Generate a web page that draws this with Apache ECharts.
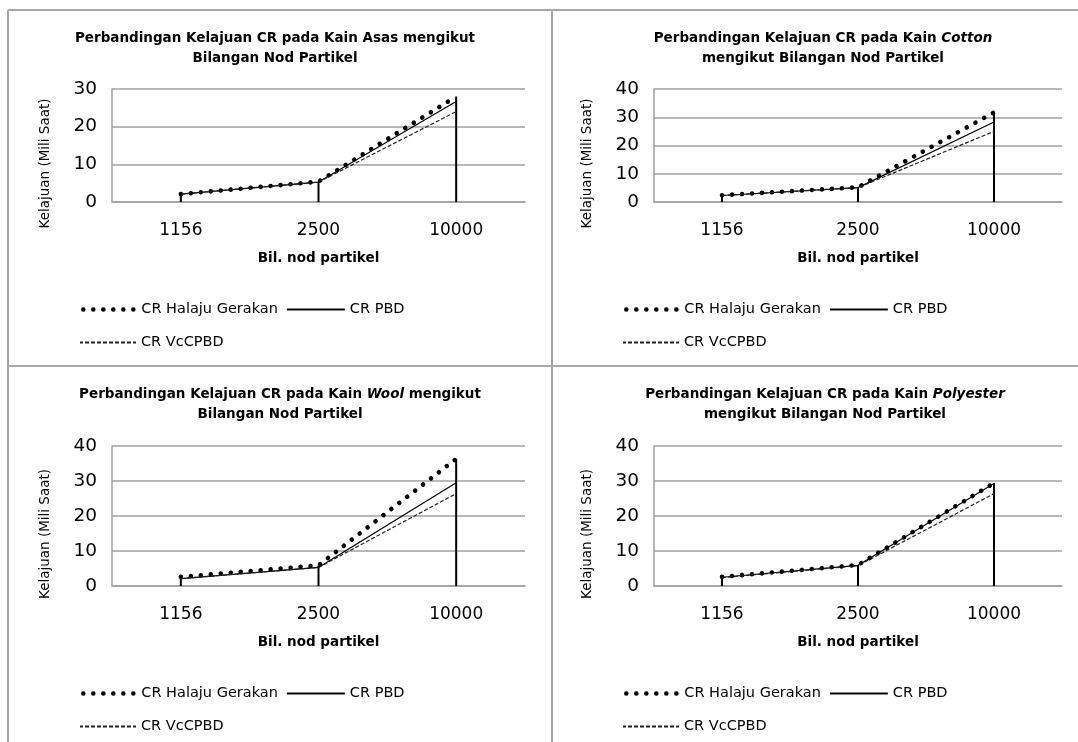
<!DOCTYPE html>
<html>
<head>
<meta charset="utf-8">
<script src="https://cdn.jsdelivr.net/npm/echarts@6/dist/echarts.min.js"></script>
<style>
html,body{margin:0;padding:0;background:#fff;}
#c{width:1078px;height:742px;}
</style>
</head>
<body>
<div id="c"></div>
<script>
// ---- data ----
const categories = ['1156', '2500', '10000'];
const seriesNames = ['CR Halaju Gerakan', 'CR PBD', 'CR VcCPBD'];

const asasHalaju = [2.1, 5.4, 28.0];
const asasPBD    = [2.1, 5.3, 26.7];
const asasVcC    = [2.1, 5.3, 24.0];

const cottonHalaju = [2.4, 5.2, 31.7];
const cottonPBD    = [2.3, 5.1, 28.3];
const cottonVcC    = [2.3, 5.1, 25.0];

const woolHalaju = [2.6, 5.9, 36.3];
const woolPBD    = [2.1, 5.3, 29.5];
const woolVcC    = [2.1, 5.3, 26.4];

const polyHalaju = [2.6, 6.0, 29.4];
const polyPBD    = [2.5, 5.9, 29.3];
const polyVcC    = [2.4, 5.8, 26.4];

const yMaxes = [30, 40, 40, 40];
const yTicks = ['0', '10', '20', '30', '40'];

const titles = [
  'Perbandingan Kelajuan CR pada Kain Asas mengikut\nBilangan Nod Partikel',
  'Perbandingan Kelajuan CR pada Kain {i|Cotton}\nmengikut Bilangan Nod Partikel',
  'Perbandingan Kelajuan CR pada Kain {i|Wool} mengikut\nBilangan Nod Partikel',
  'Perbandingan Kelajuan CR pada Kain {i|Polyester}\nmengikut Bilangan Nod Partikel'
];
const xName = 'Bil. nod partikel';
const yName = 'Kelajuan (Mili Saat)';

const panelData = [
  [asasHalaju, asasPBD, asasVcC],
  [cottonHalaju, cottonPBD, cottonVcC],
  [woolHalaju, woolPBD, woolVcC],
  [polyHalaju, polyPBD, polyVcC]
];

// ---- layout ----
const FONT = 'DejaVu Sans';
const layout = [
  {gl: 112, gt: 89,  gw: 413, gh: 113, tx: 270, ty: 23,  lx: 71,  ly1: 297, ly2: 330},
  {gl: 654, gt: 89,  gw: 408, gh: 113, tx: 818, ty: 23,  lx: 614, ly1: 297, ly2: 330},
  {gl: 112, gt: 446, gw: 413, gh: 140, tx: 275, ty: 379, lx: 71,  ly1: 681, ly2: 714},
  {gl: 654, gt: 446, gw: 408, gh: 140, tx: 820, ty: 379, lx: 614, ly1: 681, ly2: 714}
];

const dotStyle = {color: '#000', width: 4.6, type: [0.01, 10], cap: 'round'};

const option = {
  animation: false,
  backgroundColor: '#fff',
  textStyle: {fontFamily: FONT},
  title: [], grid: [], xAxis: [], yAxis: [], series: [], legend: [],
  graphic: [
    {type: 'line', shape: {x1: 8, y1: 10, x2: 1078, y2: 10}, style: {stroke: '#a6a6a6', lineWidth: 2}},
    {type: 'line', shape: {x1: 8, y1: 10, x2: 8, y2: 742}, style: {stroke: '#a6a6a6', lineWidth: 2}},
    {type: 'line', shape: {x1: 552, y1: 10, x2: 552, y2: 742}, style: {stroke: '#a6a6a6', lineWidth: 2}},
    {type: 'line', shape: {x1: 8, y1: 366, x2: 1078, y2: 366}, style: {stroke: '#a6a6a6', lineWidth: 2}}
  ]
};

layout.forEach((L, i) => {
  option.title.push({
    text: titles[i], left: L.tx, top: L.ty, textAlign: 'center',
    textStyle: {
      fontFamily: FONT, fontSize: 13.5, fontWeight: 'bold', color: '#000', lineHeight: 20,
      rich: {i: {fontFamily: FONT, fontSize: 13.5, fontWeight: 'bold', fontStyle: 'italic', color: '#000', lineHeight: 20}}
    }
  });
  option.grid.push({left: L.gl, top: L.gt, width: L.gw, height: L.gh, containLabel: false});
  option.xAxis.push({
    type: 'category', gridIndex: i, data: categories, boundaryGap: true,
    axisLine: {show: true, lineStyle: {color: '#a0a0a0', width: 1.5}},
    axisTick: {show: false},
    axisLabel: {fontFamily: FONT, fontSize: 17, color: '#000', margin: 20},
    name: xName, nameLocation: 'middle', nameGap: 49,
    nameTextStyle: {fontFamily: FONT, fontSize: 13.5, fontWeight: 'bold', color: '#000'}
  });
  option.yAxis.push({
    type: 'value', gridIndex: i, min: 0, max: yMaxes[i], interval: 10,
    axisLine: {show: true, lineStyle: {color: '#a0a0a0', width: 1.5}},
    axisTick: {show: false},
    splitLine: {show: true, lineStyle: {color: '#a0a0a0', width: 1.5}},
    axisLabel: {fontFamily: FONT, fontSize: 18.5, color: '#000', margin: 15,
      formatter: v => yTicks[v / 10]},
    name: yName, nameLocation: 'middle', nameGap: 60,
    nameTextStyle: {fontFamily: FONT, fontSize: 13.5, color: '#000', padding: [0, 36, 0, 0]}
  });
  const d = panelData[i];
  const drop = categories.map((_, k) => Math.max(d[0][k], d[1][k], d[2][k]));
  option.series.push({
    type: 'bar', xAxisIndex: i, yAxisIndex: i, data: drop, barWidth: 2,
    itemStyle: {color: '#000'}, z: 1, silent: true, legendHoverLink: false
  });
  option.series.push({
    name: seriesNames[0], type: 'line', xAxisIndex: i, yAxisIndex: i, data: d[0],
    symbol: 'none', z: 3,
    lineStyle: dotStyle,
    itemStyle: {color: '#000'}
  });
  option.series.push({
    name: seriesNames[1], type: 'line', xAxisIndex: i, yAxisIndex: i, data: d[1],
    symbol: 'none', z: 4,
    lineStyle: {color: '#000', width: 1.2, type: 'solid'},
    itemStyle: {color: '#000'}
  });
  option.series.push({
    name: seriesNames[2], type: 'line', xAxisIndex: i, yAxisIndex: i, data: d[2],
    symbol: 'none', z: 4,
    lineStyle: {color: '#222', width: 1.2, type: [4, 2]},
    itemStyle: {color: '#222'}
  });
  const legText = {fontFamily: FONT, fontSize: 14.5, color: '#000'};
  option.legend.push({
    data: [
      {name: seriesNames[0], lineStyle: {color: '#000', width: 4.6, type: [0.01, 10], cap: 'round', dashOffset: -5}},
      {name: seriesNames[1]}
    ],
    left: L.lx, top: L.ly1, orient: 'horizontal',
    itemWidth: 58, itemHeight: 14, itemGap: 8, textStyle: legText, selectedMode: false,
    itemStyle: {opacity: 0}
  });
  option.legend.push({
    data: [seriesNames[2]], left: L.lx + 3, top: L.ly2, orient: 'horizontal',
    itemWidth: 56, itemHeight: 14, itemGap: 8, textStyle: legText, selectedMode: false,
    itemStyle: {opacity: 0}
  });
});

const chart = echarts.init(document.getElementById('c'), null, {renderer: 'canvas'});
chart.setOption(option);
</script>
</body>
</html>
